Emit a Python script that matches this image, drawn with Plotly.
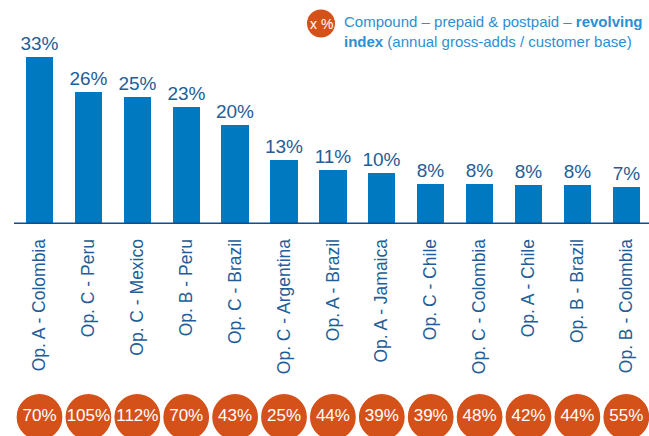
import plotly.graph_objects as go

categories = ["Op. A - Colombia", "Op. C - Peru", "Op. C - Mexico", "Op. B - Peru",
              "Op. C - Brazil", "Op. C - Argentina", "Op. A - Brazil", "Op. A - Jamaica",
              "Op. C - Chile", "Op. C - Colombia", "Op. A - Chile", "Op. B - Brazil",
              "Op. B - Colombia"]
share_values = [33, 26, 25, 23, 19.6, 12.6, 10.7, 10.0, 7.9, 7.8, 7.7, 7.7, 7.3]
share_labels = ["33%", "26%", "25%", "23%", "20%", "13%", "11%", "10%", "8%", "8%", "8%", "8%", "7%"]
revolving_index = ["70%", "105%", "112%", "70%", "43%", "25%", "44%", "39%", "39%", "48%", "42%", "44%", "55%"]

W, H = 649, 436
FONT = "Liberation Sans, Arial, sans-serif"
BAR_BLUE = "#0079c1"
DARK_BLUE = "#0d4f8f"
LABEL_BLUE = "#235d98"
ORANGE = "#d5511a"
LIGHT_BLUE = "#2b8fd3"

base_px = 224          # pixel row of the baseline
px_per_pct = 5.07
n = len(categories)
first_c, step = 39.5, 48.9

x_idx = list(range(n))
fig = go.Figure()
fig.add_trace(go.Bar(
    x=x_idx, y=share_values, text=share_labels, textposition="outside",
    textfont=dict(size=19, color=LABEL_BLUE, family=FONT), constraintext="none",
    marker=dict(color=BAR_BLUE, line=dict(width=0)),
    width=0.56, cliponaxis=False, hoverinfo="skip", showlegend=False,
))
fig.add_trace(go.Scatter(
    x=x_idx, y=[19] * n, yaxis="y2", mode="markers+text",
    text=revolving_index, textposition="middle center",
    textfont=dict(size=17, color="white", family=FONT),
    marker=dict(size=47, color=ORANGE, line=dict(color="white", width=1.2)),
    cliponaxis=False, hoverinfo="skip", showlegend=False,
))

dom_split = (H - base_px) / H
x0 = -first_c / step
x1 = (W - first_c) / step
fig.update_layout(
    width=W, height=H, margin=dict(l=0, r=0, t=0, b=0),
    paper_bgcolor="white", plot_bgcolor="white",
    font=dict(family=FONT),
    bargap=0,
    xaxis=dict(range=[x0, x1], tickmode="array", tickvals=x_idx, ticktext=categories,
               tickangle=-90, tickfont=dict(size=17.5, color=LABEL_BLUE, family=FONT),
               ticks="outside", ticklen=7, tickcolor="rgba(0,0,0,0)",
               showgrid=False, zeroline=False, showline=False, anchor="y", fixedrange=True),
    yaxis=dict(domain=[dom_split, 1], range=[0, base_px / px_per_pct], visible=False,
               showgrid=False, zeroline=False, fixedrange=True),
    yaxis2=dict(domain=[0, dom_split], range=[0, H - base_px], visible=False,
                showgrid=False, zeroline=False, anchor="x", fixedrange=True),
    shapes=[
        dict(type="line", xref="paper", yref="y", x0=14 / W, x1=1, y0=0, y1=0,
             line=dict(color=DARK_BLUE, width=3), layer="above"),
        dict(type="circle", xref="paper", yref="paper",
             x0=307 / W, x1=335 / W, y0=1 - 37.5 / H, y1=1 - 9.5 / H,
             fillcolor=ORANGE, line=dict(width=0)),
    ],
    annotations=[
        dict(text="x %", xref="paper", yref="paper", x=321 / W, y=1 - 23.5 / H,
             xanchor="center", yanchor="middle", showarrow=False,
             font=dict(size=14, color="white", family=FONT)),
        dict(text="Compound – prepaid &amp; postpaid – <b>revolving</b><br><b>index</b> (annual gross-adds / customer base)",
             xref="paper", yref="paper", x=342 / W, y=1 - 11 / H,
             xanchor="left", yanchor="top", align="left", showarrow=False,
             font=dict(size=15, color=LIGHT_BLUE, family=FONT)),
    ],
)

fig.write_html("out.html")
